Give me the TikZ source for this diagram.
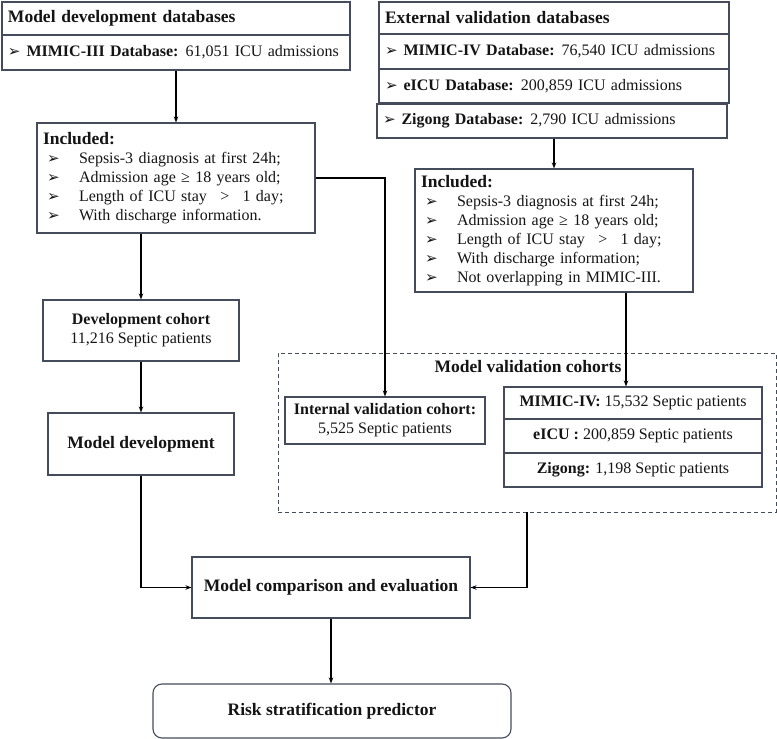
\documentclass[tikz,border=0pt]{standalone}
\usepackage{fontspec}
\setmainfont{Liberation Serif}
\newfontfamily\dejavu{DejaVu Sans}
\usetikzlibrary{arrows.meta}
\definecolor{boxc}{RGB}{68,76,92}
\definecolor{txtc}{RGB}{20,20,20}
\newcommand{\arr}{{\dejavu\fontsize{15}{15}\selectfont ➢}}
\newcommand{\incitem}[1]{\hspace*{4pt}\makebox[32pt][l]{\arr}#1}
\tikzset{
  box/.style={draw=boxc, line width=1.1pt, inner sep=0pt, text=txtc,
    font=\fontsize{16}{19}\selectfont},
  bigbox/.style={box, font=\fontsize{17.5}{21}\selectfont\bfseries},
  lbox/.style={box, align=left},
  conn/.style={line width=1.6pt, black},
  arrow/.style={conn, -{Stealth[length=6pt,width=4.5pt]}},
  dashbox/.style={draw=boxc, line width=0.9pt, dash pattern=on 4pt off 3pt},
}
\begin{document}
\begin{tikzpicture}[x=1pt,y=-1pt]
\useasboundingbox (0,0) rectangle (777,739);
% left column
\node[bigbox, minimum width=348, minimum height=33, text width=336, align=left] (hdrL) at (176,18.5) {Model development databases};
\node[lbox, minimum width=348, minimum height=35, text width=336] (dbL) at (176,52.5) {\arr\hspace{6pt}\textbf{MIMIC-III Database:}\hspace{-1pt} 61,051 ICU admissions};
\node[lbox, minimum width=278, minimum height=110, text width=266] (inclL) at (176,178)
  {{\fontsize{17.5}{19}\selectfont\textbf{Included:}}\\
   \incitem{Sepsis-3 diagnosis at first 24h;}\\
   \incitem{Admission age ≥ 18 years old;}\\
   \incitem{Length of ICU stay \,~>~\, 1 day;}\\
   \incitem{With discharge information.}};
\node[box, minimum width=196, minimum height=61, align=center] (devc) at (141,330.5)
  {\textbf{Development cohort}\\11,216 Septic patients};
\node[bigbox, minimum width=186, minimum height=62] (mdev) at (141,444) {Model development};
\node[bigbox, minimum width=278, minimum height=61] (cmp) at (331,587.5) {Model comparison and evaluation};
\node[bigbox, minimum width=358, minimum height=54, rounded corners=9pt] (risk) at (332,711) {Risk stratification predictor};
% right column
\node[bigbox, minimum width=350, minimum height=32, text width=338, align=left] (hdrR) at (554,18) {External validation databases};
\node[lbox, minimum width=350, minimum height=35, text width=338] (db1) at (554,51.5) {\arr\hspace{6pt}\textbf{MIMIC-IV Database:}\hspace{-1pt} 76,540 ICU admissions};
\node[lbox, minimum width=350, minimum height=34, text width=338] (db2) at (554,86) {\arr\hspace{6pt}\textbf{eICU Database:}\hspace{-1pt} 200,859 ICU admissions};
\node[lbox, minimum width=350, minimum height=34, text width=338] (db3) at (552,121) {\arr\hspace{6pt}\textbf{Zigong Database:}\hspace{-1pt} 2,790 ICU admissions};
\node[lbox, minimum width=278, minimum height=123, text width=266] (inclR) at (554,230.5)
  {{\fontsize{17.5}{19}\selectfont\textbf{Included:}}\\
   \incitem{Sepsis-3 diagnosis at first 24h;}\\
   \incitem{Admission age ≥ 18 years old;}\\
   \incitem{Length of ICU stay \,~>~\, 1 day;}\\
   \incitem{With discharge information;}\\
   \incitem{Not overlapping in MIMIC-III.}};
% validation cohorts
\node[dashbox, minimum width=498, minimum height=159, inner sep=0pt] (vbox) at (527,432.5) {};
\node[font=\fontsize{17.5}{21}\selectfont\bfseries, text=txtc, inner sep=0pt] (vtitle) at (528,367) {Model validation cohorts};
\node[box, minimum width=200, minimum height=47, align=center] (intv) at (385,420.5)
  {\textbf{Internal validation cohort:}\\5,525 Septic patients};
\node[box, minimum width=258, minimum height=32] (coh1) at (633,403) {\textbf{MIMIC-IV:} 15,532 Septic patients};
\node[box, minimum width=258, minimum height=34] (coh2) at (633,436) {\textbf{eICU :} 200,859 Septic patients};
\node[box, minimum width=258, minimum height=34] (coh3) at (633,470) {\textbf{Zigong:} 1,198 Septic patients};
% connectors
\draw[arrow] (dbL.south) -- (dbL.south |- inclL.north);
\draw[arrow] (inclL.east) -| (intv.north);
\draw[arrow] (devc.north |- inclL.south) -- (devc.north);
\draw[arrow] (devc.south) -- (devc.south |- mdev.north);
\draw[arrow] (mdev.south) |- (cmp.west);
\draw[arrow] (vbox.south) |- (cmp.east);
\draw[arrow] (cmp.south) -- (cmp.south |- risk.north);
\draw[arrow] (inclR.north |- db3.south) -- (inclR.north);
\coordinate (inRout) at ([xshift=72pt]inclR.south);
\draw[arrow] (inRout) -- (inRout |- coh1.north);
\end{tikzpicture}
\end{document}
